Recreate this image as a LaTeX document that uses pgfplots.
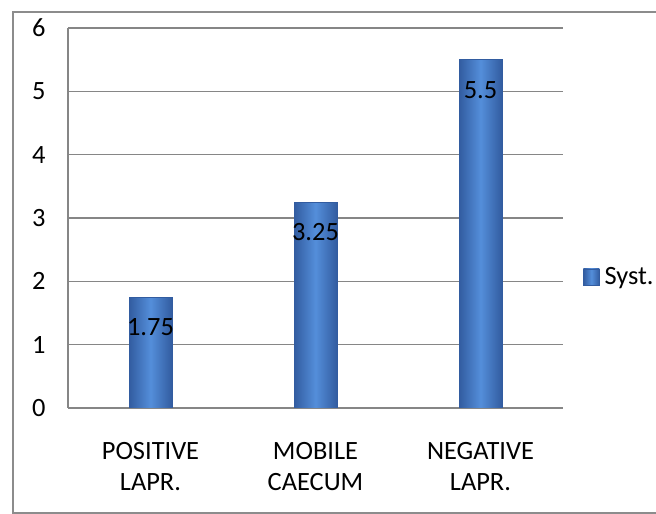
\documentclass[border=0pt]{standalone}
\usepackage{pgfplots}
\pgfplotsset{compat=1.18}
\usepackage{fontspec}
\setmainfont{Carlito}
\definecolor{gridc}{RGB}{134,134,134}
\definecolor{bordc}{RGB}{140,140,140}
\definecolor{baredge}{RGB}{50,92,160}
\definecolor{barmid}{RGB}{84,142,218}
\definecolor{barside}{RGB}{60,105,175}
\begin{document}
\begin{tikzpicture}
\useasboundingbox (0bp,0bp) rectangle (656bp,514bp);
\draw[bordc, line width=1.6bp] (700bp,502bp) -- (13bp,502bp) -- (13bp,1bp) -- (700bp,1bp);
\begin{axis}[
  at={(68bp,106bp)}, anchor=south west,
  scale only axis, width=495bp, height=380bp,
  xmin=-0.5, xmax=2.5, ymin=0, ymax=6,
  axis x line=bottom, axis y line=left,
  axis line style={gridc, line width=1.2bp, -},
  ymajorgrids, grid style={gridc, line width=1.2bp},
  ytick={0,1,...,6},
  xtick={0,1,2},
  xticklabels={POSITIVE\\LAPR., MOBILE\\CAECUM, NEGATIVE\\LAPR.},
  major tick length=0pt,
  tick style={draw=none},
  font=\fontsize{26.5}{31}\selectfont,
  /pgf/number format/assume math mode=true,
  xticklabel style={align=center, yshift=-31bp},
  yticklabel style={xshift=-19bp},
  ybar, bar width=43bp, bar shift=0pt,
  nodes near coords,
  every node near coord/.append style={anchor=center, yshift=-30bp, font=\fontsize{26.5}{30}\selectfont, black},
  legend style={at={(1,0.345)}, anchor=west, xshift=17bp, draw=none, fill=none,
    column sep=3bp, font=\fontsize{26.5}{30}\selectfont},
  legend image code/.code={\fill[barside, draw=baredge] (0bp,-8bp) rectangle (16bp,8bp);},
  barstyle/.style={draw=baredge, shading=axis, left color=baredge, right color=baredge, middle color=barmid, shading angle=90},
]
\addplot[barstyle] coordinates {(0,1.75)};
\addlegendentry{Syst.}
\addplot[barstyle, forget plot] coordinates {(1,3.25)};
\addplot[barstyle, forget plot] coordinates {(2,5.5)};
\end{axis}
\end{tikzpicture}
\end{document}
